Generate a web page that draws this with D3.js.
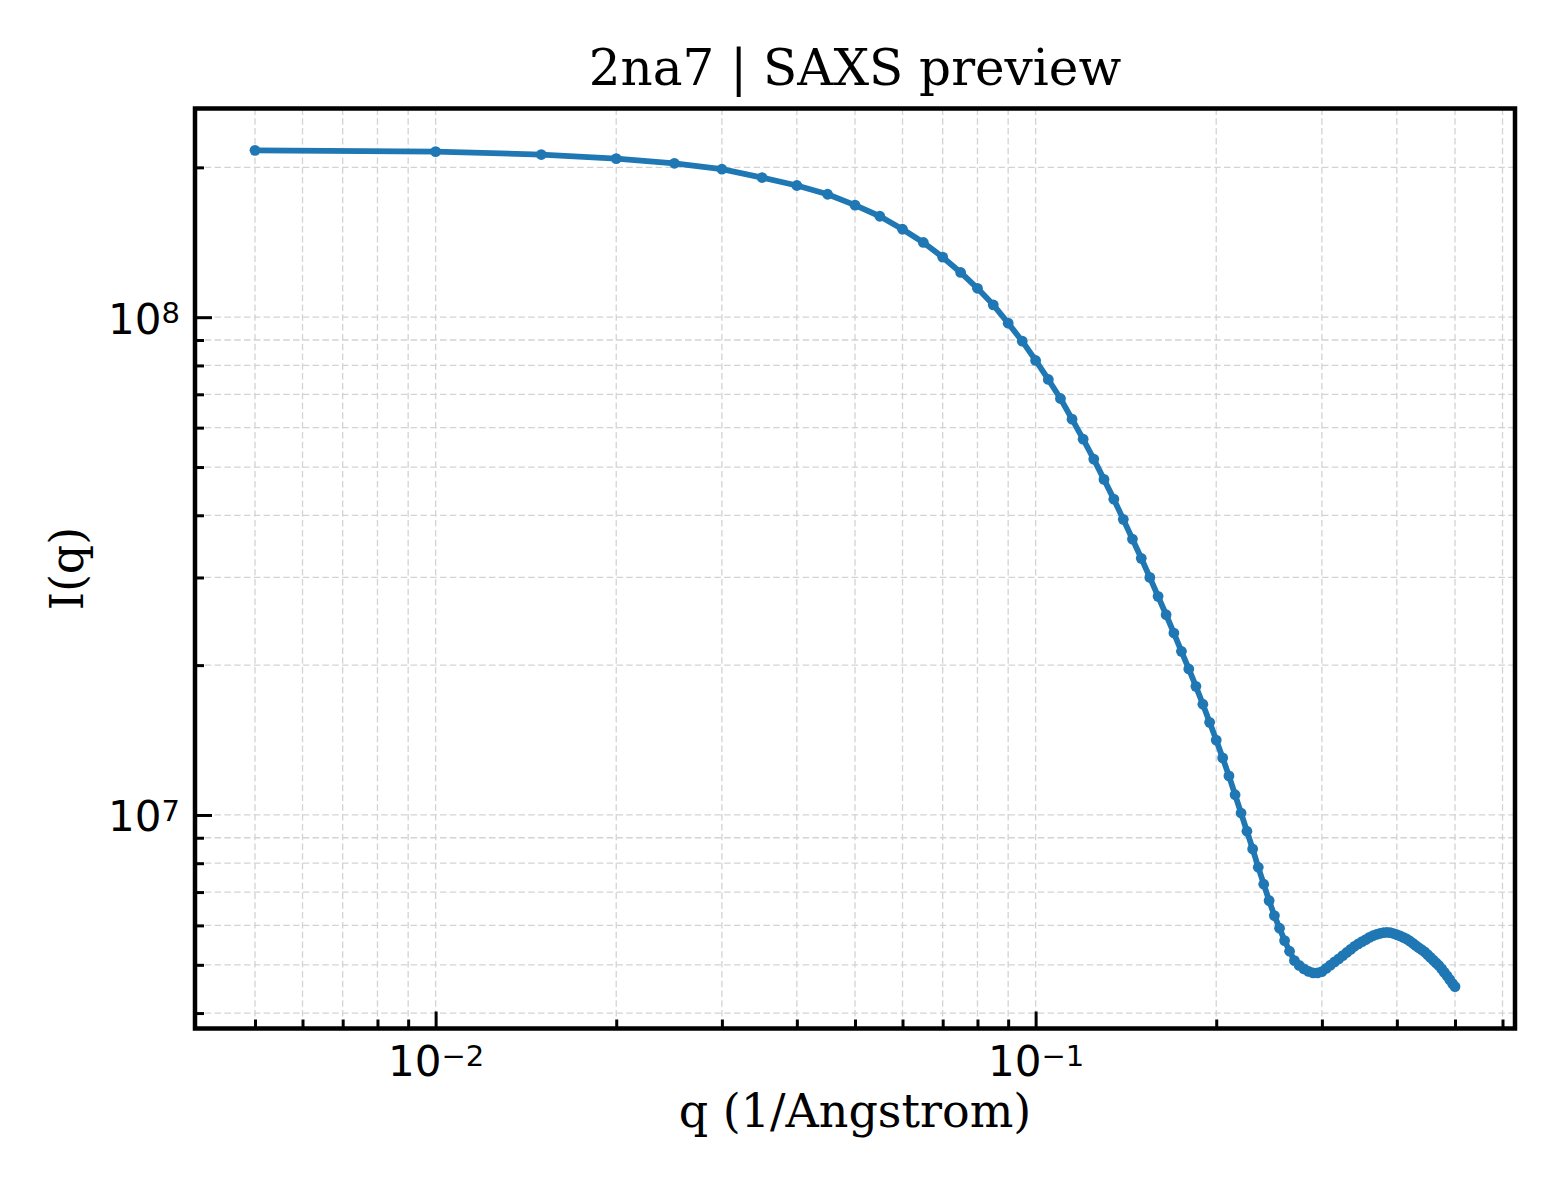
<!DOCTYPE html>
<html lang="en">
    <head>
        <meta charset="utf-8">
        <title>2na7 SAXS preview</title>
        <script type="text/javascript" src="https://d3js.org/d3.v7.min.js"></script>
        <style>
            body {
                margin: 0;
                background: white;
            }
            .grid line {
                stroke: #d3d3d3;
                stroke-width: 1.3;
                stroke-dasharray: 6.5, 3.3;
            }
            .tick-label {
                font-family: "DejaVu Sans", sans-serif;
                font-size: 42px;
                fill: black;
            }
            .label {
                font-family: "DejaVu Serif", serif;
                fill: black;
            }
        </style>
    </head>
    <body>
        <script>
            //Canvas and plot area
            const w = 1560;
            const h = 1200;
            const margin = {top: 108.5, right: 45, bottom: 171.5, left: 195};
            const innerW = w - margin.left - margin.right;
            const innerH = h - margin.top - margin.bottom;

            // q in 1/Angstrom
            const qValues = [
                0.005, 0.010, 0.015, 0.020, 0.025, 0.030, 0.035, 0.040, 0.045, 0.050,
                0.055, 0.060, 0.065, 0.070, 0.075, 0.080, 0.085, 0.090, 0.095, 0.100,
                0.105, 0.110, 0.115, 0.120, 0.125, 0.130, 0.135, 0.140, 0.145, 0.150,
                0.155, 0.160, 0.165, 0.170, 0.175, 0.180, 0.185, 0.190, 0.195, 0.200,
                0.205, 0.210, 0.215, 0.220, 0.225, 0.230, 0.235, 0.240, 0.245, 0.250,
                0.255, 0.260, 0.265, 0.270, 0.275, 0.280, 0.285, 0.290, 0.295, 0.300,
                0.305, 0.310, 0.315, 0.320, 0.325, 0.330, 0.335, 0.340, 0.345, 0.350,
                0.355, 0.360, 0.365, 0.370, 0.375, 0.380, 0.385, 0.390, 0.395, 0.400,
                0.405, 0.410, 0.415, 0.420, 0.425, 0.430, 0.435, 0.440, 0.445, 0.450,
                0.455, 0.460, 0.465, 0.470, 0.475, 0.480, 0.485, 0.490, 0.495, 0.500
            ];

            // I(q)
            const intensity = [
                2.164e8, 2.151e8, 2.122e8, 2.083e8, 2.038e8, 1.983e8, 1.908e8, 1.839e8, 1.766e8, 1.679e8,
                1.595e8, 1.502e8, 1.413e8, 1.320e8, 1.230e8, 1.143e8, 1.059e8, 9.727e7, 8.950e7, 8.186e7,
                7.498e7, 6.866e7, 6.240e7, 5.689e7, 5.187e7, 4.722e7, 4.310e7, 3.925e7, 3.583e7, 3.278e7,
                3.001e7, 2.749e7, 2.525e7, 2.320e7, 2.132e7, 1.965e7, 1.813e7, 1.669e7, 1.535e7, 1.414e7,
                1.302e7, 1.198e7, 1.098e7, 1.009e7, 9.275e6, 8.545e6, 7.852e6, 7.259e6, 6.729e6, 6.278e6,
                5.923e6, 5.593e6, 5.325e6, 5.098e6, 4.987e6, 4.907e6, 4.850e6, 4.817e6, 4.817e6, 4.846e6,
                4.918e6, 4.994e6, 5.068e6, 5.139e6, 5.216e6, 5.293e6, 5.370e6, 5.447e6, 5.508e6, 5.565e6,
                5.619e6, 5.675e6, 5.720e6, 5.754e6, 5.781e6, 5.801e6, 5.809e6, 5.801e6, 5.778e6, 5.746e6,
                5.715e6, 5.675e6, 5.637e6, 5.585e6, 5.526e6, 5.468e6, 5.411e6, 5.362e6, 5.308e6, 5.242e6,
                5.175e6, 5.110e6, 5.044e6, 4.984e6, 4.907e6, 4.828e6, 4.751e6, 4.669e6, 4.589e6, 4.519e6
            ];

            // labelled decades
            const xMajorTicks = [0.01, 0.1];
            const xMajorExp = ["−2", "−1"];
            const yMajorTicks = [1e7, 1e8];
            const yMajorExp = ["7", "8"];

            const dataset = qValues.map(function(q, i) {
                return {q: q, I: intensity[i]};
            });

            // log domain with 5% padding (in log space)
            function padLog(ext) {
                const a = Math.log10(ext[0]);
                const b = Math.log10(ext[1]);
                const pad = (b - a) * 0.05;
                return [Math.pow(10, a - pad), Math.pow(10, b + pad)];
            }

            let xScale = d3.scaleLog()
                            .domain(padLog(d3.extent(qValues)))
                            .range([0, innerW]);

            let yScale = d3.scaleLog()
                            .domain(padLog(d3.extent(intensity)))
                            .range([innerH, 0]);

            const xAll = xScale.ticks().filter(function(t) {
                return xScale(t) > 4 && xScale(t) < innerW - 2;
            });
            const yAll = yScale.ticks().filter(function(t) {
                return yScale(t) > 2 && yScale(t) < innerH - 2;
            });
            const xMinor = xAll.filter(function(t) {
                return xMajorTicks.indexOf(t) < 0;
            });
            const yMinor = yAll.filter(function(t) {
                return yMajorTicks.indexOf(t) < 0;
            });

            //Create SVG element
            const svg = d3.select("body")
                        .append("svg")
                        .attr("width", w)
                        .attr("height", h);

            const g = svg.append("g")
                        .attr("transform", "translate(" + margin.left + "," + margin.top + ")");

            //Grid, major and minor
            g.append("g")
             .attr("class", "grid")
             .selectAll("line")
             .data(xAll)
             .enter()
             .append("line")
             .attr("x1", function(d) { return xScale(d); })
             .attr("x2", function(d) { return xScale(d); })
             .attr("y1", 0)
             .attr("y2", innerH);

            g.append("g")
             .attr("class", "grid")
             .selectAll("line")
             .data(yAll)
             .enter()
             .append("line")
             .attr("x1", 0)
             .attr("x2", innerW)
             .attr("y1", function(d) { return yScale(d); })
             .attr("y2", function(d) { return yScale(d); });

            //Line and markers
            const line = d3.line()
                            .x(function(d) { return xScale(d.q); })
                            .y(function(d) { return yScale(d.I); });

            g.append("path")
             .datum(dataset)
             .attr("d", line)
             .attr("fill", "none")
             .attr("stroke", "#1f77b4")
             .attr("stroke-width", 5.8)
             .attr("stroke-linejoin", "round");

            g.selectAll("circle")
             .data(dataset)
             .enter()
             .append("circle")
             .attr("cx", function(d) { return xScale(d.q); })
             .attr("cy", function(d) { return yScale(d.I); })
             .attr("r", 5.4)
             .attr("fill", "#1f77b4");

            //Axes, ticks pointing inward
            function styleAxis(sel) {
                sel.select(".domain").remove();
                sel.selectAll(".tick line")
                   .attr("stroke", "black")
                   .attr("stroke-width", 3);
            }

            // minor ticks
            g.append("g")
             .attr("transform", "translate(0," + innerH + ")")
             .call(d3.axisBottom(xScale).tickValues(xMinor).tickSize(-9).tickFormat(""))
             .call(styleAxis);
            g.append("g")
             .call(d3.axisLeft(yScale).tickValues(yMinor).tickSize(-9).tickFormat(""))
             .call(styleAxis);

            // major ticks and labels
            const xAxis = g.append("g")
             .attr("transform", "translate(0," + innerH + ")")
             .call(d3.axisBottom(xScale).tickValues(xMajorTicks).tickSize(-17).tickPadding(16))
             .call(styleAxis);

            xAxis.selectAll(".tick text")
                 .attr("class", "tick-label")
                 .attr("font-family", null)
                 .attr("font-size", null)
                 .attr("dy", "0.76em")
                 .text("10")
                 .append("tspan")
                 .attr("dy", "-0.36em")
                 .attr("font-size", "29px")
                 .text(function(d, i) { return xMajorExp[i]; });

            const yAxis = g.append("g")
             .call(d3.axisLeft(yScale).tickValues(yMajorTicks).tickSize(-17).tickPadding(15))
             .call(styleAxis);

            yAxis.selectAll(".tick text")
                 .attr("class", "tick-label")
                 .attr("font-family", null)
                 .attr("font-size", null)
                 .attr("dy", "0.38em")
                 .text("10")
                 .append("tspan")
                 .attr("dy", "-0.36em")
                 .attr("font-size", "29px")
                 .text(function(d, i) { return yMajorExp[i]; });

            //Frame (left and bottom carry ticks, top and right plain)
            g.append("rect")
             .attr("width", innerW)
             .attr("height", innerH)
             .attr("fill", "none")
             .attr("stroke", "black")
             .attr("stroke-width", 4.5);

            //Title and axis labels
            svg.append("text")
               .attr("class", "label")
               .attr("x", margin.left + innerW / 2)
               .attr("y", 85)
               .attr("text-anchor", "middle")
               .attr("font-size", "50px")
               .text("2na7 | SAXS preview");

            svg.append("text")
               .attr("class", "label")
               .attr("x", margin.left + innerW / 2)
               .attr("y", 1127)
               .attr("text-anchor", "middle")
               .attr("font-size", "46px")
               .text("q (1/Angstrom)");

            svg.append("text")
               .attr("class", "label")
               .attr("transform", "translate(83," + (margin.top + innerH / 2) + ") rotate(-90)")
               .attr("text-anchor", "middle")
               .attr("font-size", "46px")
               .text("I(q)");
        </script>
    </body>
</html>
